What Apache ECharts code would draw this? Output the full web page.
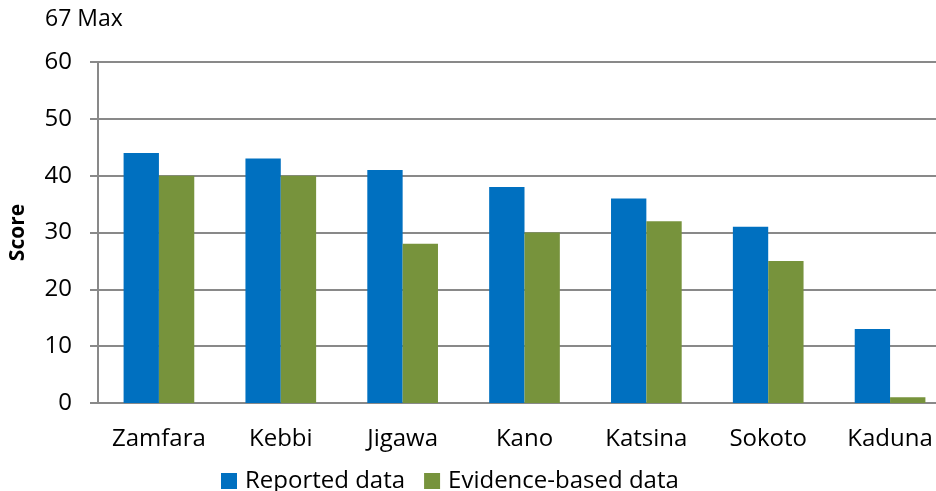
<!DOCTYPE html>
<html><head><meta charset="utf-8">
<script src="https://cdn.jsdelivr.net/npm/echarts@6/dist/echarts.min.js"></script>
<style>html,body{margin:0;padding:0;background:#fff;overflow:hidden;width:936px;height:491px}#c{width:951px;height:491px}</style>
</head><body><div id="c"></div>
<script>
var categories = ['Zamfara','Kebbi','Jigawa','Kano','Katsina','Sokoto','Kaduna'];
var reported = [44, 43, 41, 38, 36, 31, 13];
var evidence = [40, 40, 28, 30, 32, 25, 1];
var seriesNames = ['Reported data', 'Evidence-based data'];
var FONT = '"Open Sans", sans-serif';
var chart = echarts.init(document.getElementById('c'));
chart.setOption({
  animation: false,
  grid: {left: 98, right: 0, top: 62, bottom: 88, containLabel: false, outerBoundsMode: 'none'},
  title: {text: '67 Max', left: 40, top: 3, textStyle: {fontFamily: FONT, fontSize: 23, fontWeight: 'normal', color: '#000'}},
  legend: {
    top: 464, left: 216, itemWidth: 16, itemHeight: 16, itemGap: 19,
    icon: 'rect',
    textStyle: {fontFamily: FONT, fontSize: 24, color: '#000', padding: [0, 0, 0, 3]},
    data: seriesNames
  },
  xAxis: {
    type: 'category', data: categories,
    axisLine: {lineStyle: {color: '#898989', width: 2}},
    axisTick: {show: false},
    axisLabel: {fontFamily: FONT, fontSize: 24, color: '#000', margin: 24, interval: 0, hideOverlap: false}
  },
  yAxis: {
    type: 'value', min: 0, max: 60, interval: 10,
    name: 'Score', nameLocation: 'middle', nameGap: 69, nameRotate: 90,
    nameTextStyle: {fontFamily: FONT, fontSize: 21, fontWeight: 'bold', color: '#000'},
    axisLine: {show: true, lineStyle: {color: '#898989', width: 2}},
    axisTick: {show: true, length: 8, lineStyle: {color: '#898989', width: 2}},
    splitLine: {lineStyle: {color: '#898989', width: 2}},
    axisLabel: {fontFamily: FONT, fontSize: 24, color: '#000', margin: 26}
  },
  series: [
    {name: seriesNames[0], type: 'bar', data: reported, barGap: '0%', barCategoryGap: '42%', itemStyle: {color: '#0070C0'}},
    {name: seriesNames[1], type: 'bar', data: evidence, barGap: '0%', barCategoryGap: '42%', itemStyle: {color: '#77933C'}}
  ]
});
</script></body></html>
